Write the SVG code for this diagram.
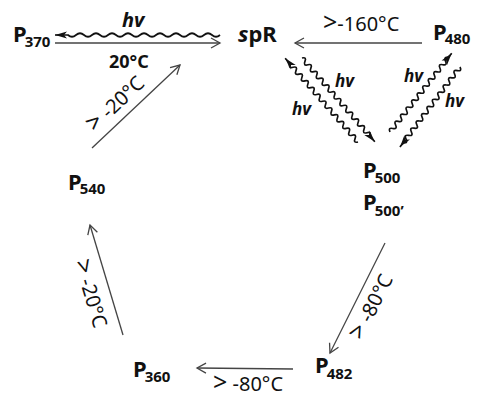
<svg xmlns="http://www.w3.org/2000/svg" width="478" height="397" viewBox="0 0 478 397">
<defs>
<style>
.node{font-family:"Noto Sans","Open Sans",sans-serif;font-weight:bold;font-size:22px;fill:#111}
.sub{font-size:15px}
.lbl{font-family:"Noto Sans","Open Sans",sans-serif;font-size:20px;fill:#111}
.gt{font-size:25px}
.hv{font-family:"Noto Sans","Open Sans",sans-serif;font-size:17px;font-weight:bold;font-style:italic;fill:#111}
.st{stroke:#444;stroke-width:1.3;fill:none;marker-end:url(#open)}
.wv{stroke:#111;stroke-width:1.7;fill:none;marker-end:url(#solid)}
</style>
<marker id="open" markerUnits="userSpaceOnUse" markerWidth="14" markerHeight="12" refX="10" refY="5" orient="auto" overflow="visible">
<path d="M1,0 L10,5 L1,10" fill="none" stroke="#444" stroke-width="1.3"/>
</marker>
<marker id="solid" markerUnits="userSpaceOnUse" markerWidth="14" markerHeight="10" refX="12" refY="4" orient="auto" overflow="visible">
<path d="M0,0.5 L12,4 L0,7.5 L3,4 Z" fill="#111"/>
</marker>
</defs>
<g id="connectors">
<path class="wv" transform="translate(220,35) rotate(180)" d="M0,0 q4,-3.5 8,0 t8,0 t8,0 t8,0 t8,0 t8,0 t8,0 t8,0 t8,0 t8,0 t8,0 t8,0 t8,0 t8,0 t8,0 t8,0 t8,0 t8,0 t8,0 l13,0"/>
<line class="st" x1="55" y1="43" x2="220" y2="43"/>
<line class="st" x1="422" y1="43" x2="295" y2="43"/>
<path class="wv" transform="translate(358,142) rotate(229)" d="M0,0 q2.25,-4.5 4.5,0 t4.5,0 t4.5,0 t4.5,0 t4.5,0 t4.5,0 t4.5,0 t4.5,0 t4.5,0 t4.5,0 t4.5,0 t4.5,0 t4.5,0 t4.5,0 t4.5,0 t4.5,0 t4.5,0 t4.5,0 t4.5,0 t4.5,0 t4.5,0 t4.5,0 t4.5,0 l7.5,0"/>
<path class="wv" transform="translate(302,58) rotate(49)" d="M0,0 q2.25,-4.5 4.5,0 t4.5,0 t4.5,0 t4.5,0 t4.5,0 t4.5,0 t4.5,0 t4.5,0 t4.5,0 t4.5,0 t4.5,0 t4.5,0 t4.5,0 t4.5,0 t4.5,0 t4.5,0 t4.5,0 t4.5,0 t4.5,0 t4.5,0 t4.5,0 t4.5,0 t4.5,0 l7.5,0"/>
<path class="wv" transform="translate(390,132) rotate(-51.9)" d="M0,0 q2.25,-4.5 4.5,0 t4.5,0 t4.5,0 t4.5,0 t4.5,0 t4.5,0 t4.5,0 t4.5,0 t4.5,0 t4.5,0 t4.5,0 t4.5,0 t4.5,0 t4.5,0 t4.5,0 t4.5,0 t4.5,0 t4.5,0 t4.5,0 t4.5,0 t4.5,0 l5.5,0"/>
<path class="wv" transform="translate(460,67) rotate(126.9)" d="M0,0 q2.25,-4.5 4.5,0 t4.5,0 t4.5,0 t4.5,0 t4.5,0 t4.5,0 t4.5,0 t4.5,0 t4.5,0 t4.5,0 t4.5,0 t4.5,0 t4.5,0 t4.5,0 t4.5,0 t4.5,0 t4.5,0 t4.5,0 t4.5,0 t4.5,0 t4.5,0 l5.5,0"/>
<line class="st" x1="385" y1="243" x2="330" y2="353"/>
<line class="st" x1="293" y1="369" x2="197" y2="368"/>
<line class="st" x1="123" y1="335" x2="90" y2="225"/>
<line class="st" x1="92" y1="148" x2="180" y2="65"/>
<text class="hv" x="122" y="27" style="font-size:20px">hv</text>
<text class="lbl" x="109" y="68" style="font-weight:bold;font-size:18px">20°C</text>
<text class="lbl" x="323" y="31"><tspan class="gt">&gt;</tspan>-160°C</text>
<text class="hv" x="335" y="87">hv</text>
<text class="hv" x="292" y="115">hv</text>
<text class="hv" x="404" y="82">hv</text>
<text class="hv" x="445" y="107">hv</text>
<text class="lbl" text-anchor="middle" transform="translate(377.8,309.9) rotate(-63.4)"><tspan class="gt">&gt;</tspan> -80°C</text>
<text class="lbl" x="213" y="391"><tspan class="gt">&gt;</tspan> -80°C</text>
<text class="lbl" text-anchor="middle" transform="translate(84,295.5) rotate(73.3)"><tspan class="gt">&gt;</tspan> -20°C</text>
<text class="lbl" text-anchor="middle" transform="translate(120.3,108.9) rotate(-43.3)"><tspan class="gt">&gt;</tspan> -20°C</text>
</g>
<g id="P370"><text class="node" x="13" y="42">P<tspan class="sub" dx="-2" dy="5">370</tspan></text></g>
<g id="spR"><text class="node" x="238" y="42"><tspan font-style="italic">s</tspan>pR</text></g>
<g id="P480"><text class="node" x="433" y="40">P<tspan class="sub" dx="-2" dy="4">480</tspan></text></g>
<g id="P500"><text class="node" x="363" y="178">P<tspan class="sub" dx="-2" dy="5">500</tspan></text>
<text class="node" x="363" y="210">P<tspan class="sub" dx="-2" dy="6">500’</tspan></text></g>
<g id="P540"><text class="node" x="68" y="190">P<tspan class="sub" dx="-2" dy="4">540</tspan></text></g>
<g id="P360"><text class="node" x="133" y="377">P<tspan class="sub" dx="-2" dy="5">360</tspan></text></g>
<g id="P482"><text class="node" x="315" y="373">P<tspan class="sub" dx="-2" dy="6">482</tspan></text></g>
</svg>
